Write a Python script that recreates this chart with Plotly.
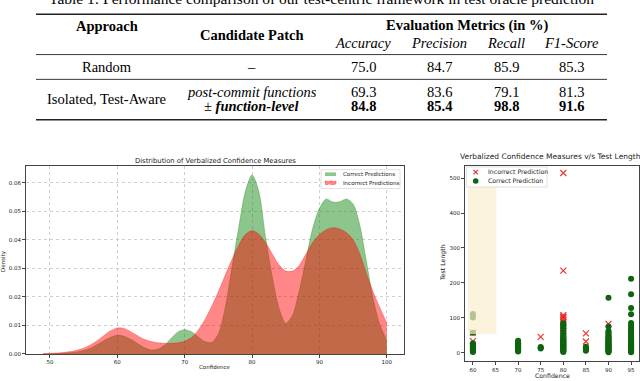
import plotly.graph_objects as go

# ---- table values ----
metric_names = ["Accuracy", "Precision", "Recall", "F1-Score"]
random_scores = ["75.0", "84.7", "85.9", "85.3"]
postcommit_scores = ["69.3", "83.6", "79.1", "81.3"]
funclevel_scores = ["84.8", "85.4", "98.8", "91.6"]

# ---- KDE of verbalized confidence ----
conf_grid = [49, 50, 51, 52, 53, 54, 55, 56, 57, 58, 59, 60, 61, 62, 63, 64, 65, 66,
             67, 68, 69, 70, 71, 72, 73, 74, 75, 76, 77, 78, 79, 80, 81, 82, 83, 84,
             85, 86, 87, 88, 89, 90, 91, 92, 93, 94, 95, 96, 97, 98, 99, 100]
density_correct = [0.0000, 0.0000, 0.0001, 0.0002, 0.0004, 0.0007, 0.0012, 0.0020,
                   0.0032, 0.0046, 0.0058, 0.0065, 0.0062, 0.0051, 0.0036, 0.0022,
                   0.0014, 0.0016, 0.0030, 0.0055, 0.0077, 0.0085, 0.0078, 0.0060,
                   0.0043, 0.0040, 0.0070, 0.0160, 0.0300, 0.0440, 0.0570, 0.0627,
                   0.0570, 0.0410, 0.0270, 0.0160, 0.0107, 0.0135, 0.0220, 0.0330,
                   0.0440, 0.0510, 0.0543, 0.0532, 0.0533, 0.0543, 0.0525, 0.0450,
                   0.0320, 0.0190, 0.0100, 0.0047]
density_incorrect = [0.0001, 0.0002, 0.0003, 0.0005, 0.0008, 0.0013, 0.0020, 0.0031,
                     0.0046, 0.0064, 0.0081, 0.0091, 0.0089, 0.0078, 0.0064, 0.0051,
                     0.0043, 0.0039, 0.0037, 0.0037, 0.0039, 0.0044, 0.0057, 0.0083,
                     0.0120, 0.0166, 0.0218, 0.0275, 0.0330, 0.0380, 0.0418, 0.0432,
                     0.0420, 0.0390, 0.0350, 0.0312, 0.0290, 0.0290, 0.0310, 0.0350,
                     0.0390, 0.0418, 0.0435, 0.0442, 0.0438, 0.0425, 0.0400, 0.0350,
                     0.0280, 0.0215, 0.0160, 0.0108]

# ---- confidence vs test length ----
correct_60 = [2, 4, 6, 8, 10, 12, 14, 16, 18, 20, 22, 24, 27, 57, 101, 106, 111]
correct_70 = [3, 5, 7, 9, 11, 13, 15, 17, 19, 21, 23, 25, 27, 29, 31, 34]
correct_75 = [12, 14, 16]
correct_80 = [2, 4, 6, 8, 10, 12, 14, 16, 18, 20, 22, 24, 26, 28, 30, 32, 34, 36, 38,
              40, 43, 46, 50, 55, 60, 65, 70, 75, 80, 84]
correct_85 = [5, 8, 11, 14, 17]
correct_90 = [1, 3, 5, 7, 9, 11, 13, 15, 17, 19, 21, 23, 25, 27, 29, 31, 33, 35, 38,
              41, 44, 47, 50, 54, 58, 62, 75, 157]
correct_95 = [1, 3, 5, 7, 9, 11, 13, 15, 17, 19, 21, 23, 25, 27, 29, 31, 34, 37, 40,
              44, 48, 52, 57, 62, 67, 72, 78, 85, 110, 128, 167, 212]
incorrect_60 = [33, 57]
incorrect_75 = [45]
incorrect_80 = [62, 70, 78, 88, 95, 100, 103, 107, 235, 515]
incorrect_85 = [32, 55]
incorrect_90 = [82]

W, H = 640, 381

GREEN_FILL = "rgba(0,128,0,0.45)"
RED_FILL = "rgba(255,0,0,0.47)"
RED_X = "rgba(235,40,40,0.9)"
DARK_GREEN = "#0f6410"


def px(x):
    return x / W


def py(y):
    return 1 - y / H


def stack(groups):
    xs, ys = [], []
    for conf, vals in groups:
        for v in vals:
            xs.append(conf)
            ys.append(v)
    return xs, ys


cx, cy = stack([(60, correct_60), (70, correct_70), (75, correct_75), (80, correct_80),
                (85, correct_85), (90, correct_90), (95, correct_95)])
ix, iy = stack([(60, incorrect_60), (75, incorrect_75), (80, incorrect_80),
                (85, incorrect_85), (90, incorrect_90)])

fig = go.Figure()

fig.add_trace(go.Scatter(
    x=conf_grid, y=density_correct, name="Correct Predictions",
    mode="lines", fill="tozeroy",
    line=dict(color="rgba(0,128,0,0.5)", width=0.6, shape="spline", smoothing=0.8),
    fillcolor=GREEN_FILL, xaxis="x", yaxis="y"))
fig.add_trace(go.Scatter(
    x=conf_grid, y=density_incorrect, name="Incorrect Predictions",
    mode="lines", fill="tozeroy",
    line=dict(color="rgba(255,0,0,0.5)", width=0.6, shape="spline", smoothing=0.8),
    fillcolor=RED_FILL, xaxis="x", yaxis="y"))

fig.add_trace(go.Scatter(
    x=ix, y=iy, name="Incorrect Prediction", mode="markers",
    marker=dict(symbol="x-thin", size=6, line=dict(color=RED_X, width=1.3)),
    xaxis="x2", yaxis="y2"))
fig.add_trace(go.Scatter(
    x=cx, y=cy, name="Correct Prediction", mode="markers",
    marker=dict(symbol="circle", size=6, color=DARK_GREEN),
    xaxis="x2", yaxis="y2"))

tick_font = dict(family="DejaVu Sans", size=5.5, color="#222")
frame = dict(showline=True, mirror=True, linecolor="#444", linewidth=0.8,
             ticks="outside", ticklen=3, tickwidth=0.7, tickcolor="#444",
             tickfont=tick_font, zeroline=False)

fig.update_layout(
    width=W, height=H, margin=dict(l=0, r=0, t=0, b=0),
    paper_bgcolor="white", plot_bgcolor="white", showlegend=False, hovermode=False,
    xaxis=dict(domain=[px(26), px(404)], range=[46.45, 102.55], tickvals=[50, 60, 70, 80, 90, 100],
               showgrid=True, gridcolor="#cfcfcf", griddash="dot", gridwidth=0.7, anchor="y", **frame),
    yaxis=dict(domain=[py(356.7), py(167.7)], range=[0, 0.0657], tickvals=[0, 0.01, 0.02, 0.03, 0.04, 0.05, 0.06],
               tickformat=".2f", showgrid=True, gridcolor="#cfcfcf", griddash="dot", gridwidth=0.7,
               anchor="x", **frame),
    xaxis2=dict(domain=[px(465), px(639)], range=[58.25, 96.75], tickvals=[60, 65, 70, 75, 80, 85, 90, 95],
                showgrid=False, anchor="y2", **frame),
    yaxis2=dict(domain=[py(364), py(167)], range=[-24.5, 536], tickvals=[0, 100, 200, 300, 400, 500],
                showgrid=False, anchor="x2", **frame),
)

# highlighted region in scatter
fig.add_shape(type="rect", xref="x2", yref="y2", x0=58.9, x1=65.2, y0=53, y1=476,
              fillcolor="rgba(250,238,205,0.7)", line=dict(width=0), layer="above")

chart_font = dict(family="DejaVu Sans", color="#222")


def label(text, x, y, size, ang=0, anchor="center"):
    fig.add_annotation(text=text, x=px(x), y=py(y), xref="paper", yref="paper",
                       xanchor=anchor, yanchor="middle", showarrow=False,
                       textangle=ang, font=dict(size=size, **chart_font))


label("Distribution of Verbalized Confidence Measures", 215, 162.5, 6.8)
label("Confidence", 215, 370, 5.5)
label("Density", 4, 263, 5.5, -90)
label("Verbalized Confidence Measures v/s Test Lengths", 552, 158, 7.5)
label("Confidence", 552, 378, 6.2)
label("Test Length", 443, 265, 6.2, -90)


def box(x0, x1, y0, y1, fill, line_color=None, dash="solid", lw=0.7):
    fig.add_shape(type="rect", xref="paper", yref="paper",
                  x0=px(x0), x1=px(x1), y0=py(y1), y1=py(y0), fillcolor=fill,
                  line=dict(color=line_color or "rgba(0,0,0,0)", width=lw if line_color else 0, dash=dash))


# legend of the density chart
box(321, 400, 171, 190, "rgba(255,255,255,0.85)", "#d4d4d4")
box(325, 336, 173.8, 177.4, GREEN_FILL)
box(325, 336, 182.4, 186, RED_FILL, "rgba(255,0,0,0.6)", "dot", 0.6)
label("Correct Predictions", 340.5, 175.7, 5.5, anchor="left")
label("Incorrect Predictions", 340.5, 184.3, 5.5, anchor="left")

# legend of the scatter chart
box(466.5, 547, 168.3, 188.5, "rgba(255,255,255,0.85)", "#d4d4d4")
for dx, dy in [(-2.2, -2.2), (-2.2, 2.2)]:
    fig.add_shape(type="line", xref="paper", yref="paper",
                  x0=px(475.7 + dx), y0=py(173.5 + dy), x1=px(475.7 - dx), y1=py(173.5 - dy),
                  line=dict(color=RED_X, width=1.2))
fig.add_shape(type="circle", xref="paper", yref="paper",
              x0=px(472.9), x1=px(478.5), y0=py(185.2), y1=py(179.6),
              fillcolor=DARK_GREEN, line=dict(width=0))
label("Incorrect Prediction", 486, 173.3, 6.2, anchor="left")
label("Correct Prediction", 486, 182.4, 6.2, anchor="left")

# ---- table ----
serif = dict(family="Liberation Serif", color="black")
for y, w in [(14.3, 1.6), (55, 0.9), (80, 0.9), (120.7, 1.6)]:
    fig.add_shape(type="line", xref="paper", yref="paper", x0=px(36), x1=px(607),
                  y0=py(y), y1=py(y), line=dict(color="#222", width=w))


def cell(text, x, y, size=14.5):
    fig.add_annotation(text=text, x=px(x), y=py(y), xref="paper", yref="paper",
                       xanchor="center", yanchor="middle", showarrow=False,
                       font=dict(size=size, **serif))


cell("Table 1: Performance comparison of our test-centric framework in test oracle prediction",
     321.5, -1.5, 15.5)
cell("<b>Approach</b>", 106.7, 26.7)
cell("<b>Candidate Patch</b>", 251.7, 35)
cell("<b>Evaluation Metrics (in %)</b>", 466.7, 26)
metric_x = [363.3, 439.3, 506, 571.7]
for name, x in zip(metric_names, metric_x):
    cell("<i>" + name + "</i>", x, 43.3)
cell("Random", 106.7, 67.7)
cell("–", 251.7, 67.7)
for v, x in zip(random_scores, metric_x):
    cell(v, x, 67.7)
cell("Isolated, Test-Aware", 106.7, 100)
cell("<i>post-commit functions</i>", 251.7, 92.7)
cell("± <b><i>function-level</i></b>", 251.7, 107.3)
for v, x in zip(postcommit_scores, metric_x):
    cell(v, x, 92.7)
for v, x in zip(funclevel_scores, metric_x):
    cell("<b>" + v + "</b>", x, 107.3)

# the page body has an 8px default margin; drop it so the figure fills the window
fig.write_html("out.html", config={"displayModeBar": False},
               post_script="document.body.style.margin='0px';")
